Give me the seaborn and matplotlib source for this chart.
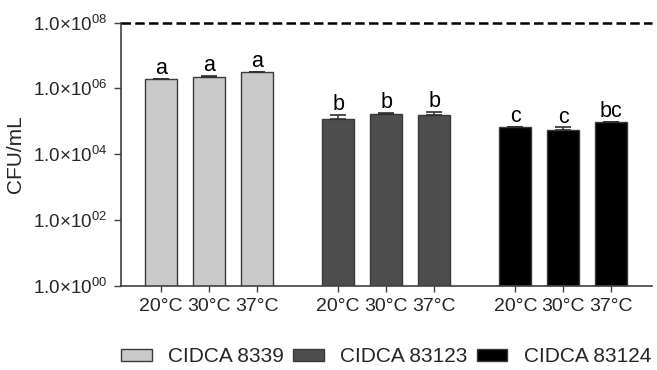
import numpy as np
import pandas as pd
import matplotlib
matplotlib.use("Agg")
import matplotlib.pyplot as plt
from matplotlib.patches import Patch
import seaborn as sns

# ---- data ----
strains = ["CIDCA 8339", "CIDCA 83123", "CIDCA 83124"]
temps = ["20°C", "30°C", "37°C"]
means_8339 = [1.9e6, 2.2e6, 3.1e6]
means_83123 = [1.2e5, 1.7e5, 1.6e5]
means_83124 = [6.6e4, 5.6e4, 9.5e4]
err_8339 = [0.03e6, 0.25e6, 0.03e6]
err_83123 = [0.35e5, 0.05e5, 0.37e5]
err_83124 = [0.1e4, 0.9e4, 0.3e4]
letters_8339 = ["a", "a", "a"]
letters_83123 = ["b", "b", "b"]
letters_83124 = ["c", "c", "bc"]
ytick_vals = [1e0, 1e2, 1e4, 1e6, 1e8]
ytick_labels = ["1.0×10$^{00}$", "1.0×10$^{02}$", "1.0×10$^{04}$",
                "1.0×10$^{06}$", "1.0×10$^{08}$"]
colors = ["#C9C9C9", "#4D4D4D", "#000000"]

# ---- style ----
sns.set_style("ticks")
plt.rcParams["font.family"] = ["Liberation Sans", "DejaVu Sans"]
plt.rcParams["mathtext.fontset"] = "custom"
plt.rcParams["mathtext.rm"] = "Liberation Sans"
plt.rcParams["mathtext.it"] = "Liberation Sans"
plt.rcParams["mathtext.bf"] = "Liberation Sans"
plt.rcParams["mathtext.default"] = "regular"

means = [means_8339, means_83123, means_83124]
errs = [err_8339, err_83123, err_83124]
letters = [letters_8339, letters_83123, letters_83124]

group_step = 3.69
rows = []
for g, s in enumerate(strains):
    for t, temp in enumerate(temps):
        rows.append({"pos": g * group_step + t, "strain": s, "temp": temp,
                     "mean": means[g][t], "err": errs[g][t],
                     "letter": letters[g][t]})
df = pd.DataFrame(rows)

fig = plt.figure(figsize=(6.57, 3.70), dpi=100)
ax = fig.add_axes([120.7 / 657, 1 - 285.7 / 370, (651.7 - 120.7) / 657,
                   (285.7 - 22.7) / 370])

sns.barplot(data=df, x="pos", y="mean", hue="strain", palette=colors,
            native_scale=True, dodge=False, errorbar=None, width=0.667,
            edgecolor="#3a3a3a", linewidth=1.0, legend=False, ax=ax)

ax.errorbar(df["pos"], df["mean"],
            yerr=[np.zeros(len(df)), df["err"]],
            fmt="none", ecolor="#303030", elinewidth=1.1, capsize=6,
            capthick=1.2, zorder=3)

ax.set_yscale("log")
ax.set_ylim(1, 1e8)
ax.set_xlim(-0.84, 10.22)

ax.axhline(1e8, color="black", linewidth=1.8, linestyle=(0, (3.8, 1.7)),
           clip_on=False, zorder=4)

for _, r in df.iterrows():
    ax.annotate(r["letter"], (r["pos"], r["mean"] + r["err"]),
                xytext=(0, 3.5), textcoords="offset points",
                ha="center", va="baseline", fontsize=15.5, color="black")

ax.set_xticks(df["pos"])
ax.set_xticklabels(df["temp"], fontsize=14)
ax.set_yticks(ytick_vals)
ax.set_yticklabels(ytick_labels, fontsize=13.5)
ax.yaxis.set_minor_locator(matplotlib.ticker.NullLocator())
ax.tick_params(axis="x", length=4, width=1.0, color="#404040", pad=4.5)
ax.tick_params(axis="y", length=5, width=1.0, color="#404040", pad=5)
ax.set_xlabel("")
ax.set_ylabel("CFU/mL", fontsize=15)
ax.yaxis.set_label_coords(25 / 657, 1 - 154 / 370, transform=fig.transFigure)

sns.despine(ax=ax)
for sp in ["left", "bottom"]:
    ax.spines[sp].set_color("#404040")
    ax.spines[sp].set_linewidth(1.2)

handles = [Patch(facecolor=c, edgecolor="#3a3a3a", linewidth=1.0) for c in colors]
fig.legend(handles, strains, loc="center", bbox_to_anchor=(0.588, 0.036),
           ncol=3, frameon=False, fontsize=15, handlelength=1.45,
           handleheight=0.55, handletextpad=0.8, columnspacing=0.45,
           borderpad=0, borderaxespad=0)

fig.savefig("out.png", dpi=100)
